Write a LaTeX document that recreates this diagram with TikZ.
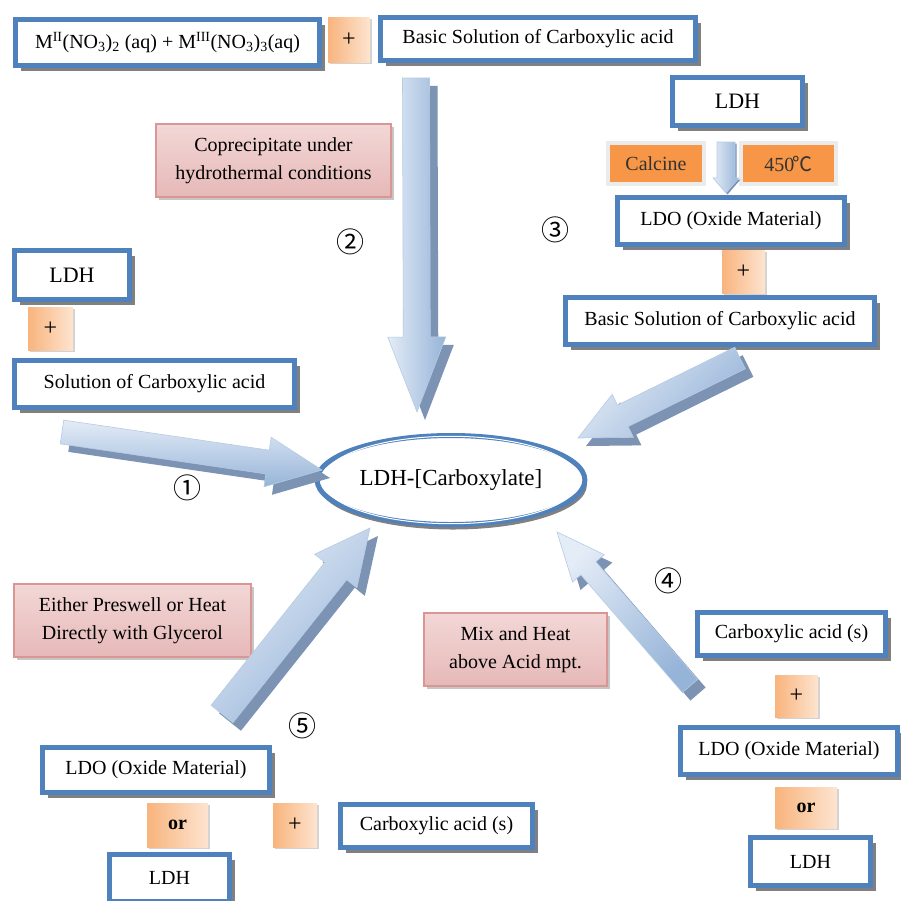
\documentclass[tikz,border=0pt]{standalone}
\usepackage{fontspec}
\setmainfont{Liberation Serif}
\newfontfamily\cjk{Noto Sans CJK SC}
\usepackage{tikz}
\usetikzlibrary{calc,shapes.geometric,shadows}
\definecolor{boxblue}{RGB}{79,129,189}
\definecolor{shadowgray}{RGB}{128,128,128}
\definecolor{pinktop}{RGB}{242,215,214}
\definecolor{pinkbot}{RGB}{230,185,184}
\definecolor{pinkline}{RGB}{217,150,148}
\definecolor{plusA}{RGB}{248,180,125}
\definecolor{plusB}{RGB}{253,228,208}
\definecolor{heatorange}{RGB}{247,150,70}
\definecolor{arrowlight}{RGB}{228,236,247}
\definecolor{arrowmid}{RGB}{150,180,216}
\definecolor{arrowdark}{RGB}{125,147,180}
\tikzstyle{bluebox}=[draw=boxblue,line width=5pt,fill=white,inner sep=0pt,
  drop shadow={shadow xshift=5pt,shadow yshift=-5pt,fill=shadowgray,opacity=1}]
\tikzstyle{pinkbox}=[draw=pinkline,line width=1.5pt,top color=pinktop,middle color=white,
  bottom color=pinkbot,align=center,inner sep=0pt,
  drop shadow={shadow xshift=3pt,shadow yshift=-3pt,fill=gray!45,opacity=1}]
\tikzstyle{plusbox}=[left color=plusA,right color=plusB,inner sep=0pt,
  drop shadow={shadow xshift=2pt,shadow yshift=-2pt,fill=gray!35,opacity=1}]
\tikzstyle{plussign}=[plusbox,font=\fontsize{24}{26}\selectfont]
\tikzstyle{heatbox}=[fill=heatorange,draw=black!8,line width=4pt,inner sep=0pt,text=black!80]
\tikzstyle{stepnum}=[font=\cjk\fontsize{28}{28}\selectfont]
\tikzstyle{bigtext}=[font=\fontsize{22}{26}\selectfont]
\tikzstyle{arrowface}=[left color=arrowlight,right color=arrowmid,draw=arrowmid!70!white,line width=.6pt]
\tikzstyle{arrowside}=[fill=arrowdark]
\tikzstyle{arrowdepth}=[transform canvas={xshift=8pt,yshift=-8pt}]
% block arrow: [face options]{tail}{tip}{half shaft}{half head}{head length}
\newcommand{\blockarrow}[6][]{%
  \path ($(#3)!#6pt!(#2)$) coordinate (hb);
  \begin{scope}[arrowdepth]
    \fill[arrowside] ($(#2)!#4pt!90:(#3)$) -- ($(hb)!#4pt!90:(#3)$) -- ($(hb)!#5pt!90:(#3)$) -- (#3)
      -- ($(hb)!#5pt!-90:(#3)$) -- ($(hb)!#4pt!-90:(#3)$) -- ($(#2)!#4pt!-90:(#3)$) -- cycle;
  \end{scope}
  \draw[arrowface,#1] ($(#2)!#4pt!90:(#3)$) -- ($(hb)!#4pt!90:(#3)$) -- ($(hb)!#5pt!90:(#3)$) -- (#3)
    -- ($(hb)!#5pt!-90:(#3)$) -- ($(hb)!#4pt!-90:(#3)$) -- ($(#2)!#4pt!-90:(#3)$) -- cycle;
}

\begin{document}
\begin{tikzpicture}[x=1pt,y=-1pt,every node/.style={font=\fontsize{20}{28}\selectfont}]
  \useasboundingbox[fill=white] (0,0) rectangle (901,900);

  % route 2: coprecipitation
  \node[bluebox,minimum width=304,minimum height=46] (metal) at (167.5,42.5)
    {M\textsuperscript{II}(NO\textsubscript{3})\textsubscript{2} (aq) + M\textsuperscript{III}(NO\textsubscript{3})\textsubscript{3}(aq)};
  \node[plussign,minimum width=42,minimum height=45] (plusA) at (349,39.5) {+};
  \node[bluebox,minimum width=315,minimum height=43] (basicA) at (538,39) {Basic Solution of Carboxylic acid};
  \node[pinkbox,minimum width=235,minimum height=73] (copre) at (273.5,160.5) {Coprecipitate under\\hydrothermal conditions};

  % route 3: calcine and rebuild
  \node[bluebox,bigtext,minimum width=130,minimum height=48] (ldhA) at (737.5,101.5) {LDH};
  \node[heatbox,minimum width=96,minimum height=41] (calcine) at (656,163.5) {Calcine};
  \node[heatbox,minimum width=95,minimum height=41] (heat) at (788.5,163.5) {450\kern-1.5pt{\cjk ℃}};
  \node[bluebox,minimum width=227,minimum height=47] (ldoA) at (731,221) {LDO (Oxide Material)};
  \node[plussign,minimum width=43,minimum height=43] (plusB) at (743.5,271.5) {+};
  \node[bluebox,minimum width=309,minimum height=47] (basicB) at (720,321) {Basic Solution of Carboxylic acid};

  % route 1: exchange
  \node[bluebox,bigtext,minimum width=115,minimum height=49] (ldhB) at (72,275) {LDH};
  \node[plussign,minimum width=45,minimum height=43] (plusC) at (50.5,328.5) {+};
  \node[bluebox,minimum width=280,minimum height=47] (solA) at (154.5,384) {Solution of Carboxylic acid};

  % product
  \node[ellipse,draw=boxblue,line width=5pt,fill=white,minimum width=258,minimum height=89,
    font=\fontsize{23}{26}\selectfont,
    drop shadow={shadow xshift=2pt,shadow yshift=-5pt,fill=shadowgray,opacity=1}] (prod) at (451,480) {LDH-[Carboxylate]};
  \draw[white,line width=1pt] (prod.center) ellipse [x radius=128.2,y radius=43.7];

  % route 5: glycerol
  \node[pinkbox,minimum width=237,minimum height=73] (either) at (132.5,620.5) {Either Preswell or Heat\\Directly with Glycerol};
  \node[bluebox,minimum width=227,minimum height=45] (ldoC) at (156,770) {LDO (Oxide Material)};
  \node[plusbox,minimum width=61,minimum height=44] (orC) at (177.5,825) {\textbf{or}};
  \node[plussign,minimum width=44,minimum height=44] (plusD) at (295,825) {+};
  \node[bluebox,minimum width=120,minimum height=47] (ldhC) at (169.5,878) {LDH};
  \node[bluebox,minimum width=192,minimum height=43] (acidC) at (436.5,826) {Carboxylic acid (s)};

  % route 4: melt
  \node[pinkbox,minimum width=183,minimum height=73] (mix) at (515.5,649.5) {Mix and Heat\\above Acid mpt.};
  \node[bluebox,minimum width=188,minimum height=43] (acidD) at (791.5,634) {Carboxylic acid (s)};
  \node[plussign,minimum width=43,minimum height=42] (plusE) at (796.5,696) {+};
  \node[bluebox,minimum width=217,minimum height=47] (ldoD) at (789,751) {LDO (Oxide Material)};
  \node[plusbox,minimum width=62,minimum height=41] (orD) at (806,807.5) {\textbf{or}};
  \node[bluebox,minimum width=120,minimum height=48] (ldhD) at (810.5,861.5) {LDH};

  % step numbers
  \node[stepnum] (n1) at (187,488) {①};
  \node[stepnum] (n2) at (350,242) {②};
  \node[stepnum] (n3) at (555,230) {③};
  \node[stepnum] (n4) at (668,581) {④};
  \node[stepnum] (n5) at (302,726) {⑤};

  % arrows
  \coordinate (a1s) at (62,432);  \coordinate (a1e) at (322,470);
  \coordinate (a2s) at (416,78);  \coordinate (a2e) at (417,412);
  \coordinate (a3s) at (740,358); \coordinate (a3e) at (578,438);
  \coordinate (a4s) at (690,686); \coordinate (a4e) at (557,532);
  \coordinate (a5s) at (222,714); \coordinate (a5e) at (370,528);
  \coordinate (c0s) at (726,142); \coordinate (c0e) at (726,193);
  \blockarrow[shading angle=0]{a1s}{a1e}{12}{25}{55}
  \blockarrow[shading angle=90]{a2s}{a2e}{13.5}{29}{75}
  \blockarrow[shading angle=45]{a3s}{a3e}{12}{24}{50}
  \blockarrow[shading angle=45]{a4s}{a4e}{10}{21}{48}
  \blockarrow[shading angle=45]{a5s}{a5e}{14}{27}{55}
  \begin{scope}[arrowdepth/.style={transform canvas={xshift=1.5pt,yshift=-1.5pt}}]
    \blockarrow[shading angle=90]{c0s}{c0e}{9}{13}{15}
  \end{scope}
\end{tikzpicture}
\end{document}
